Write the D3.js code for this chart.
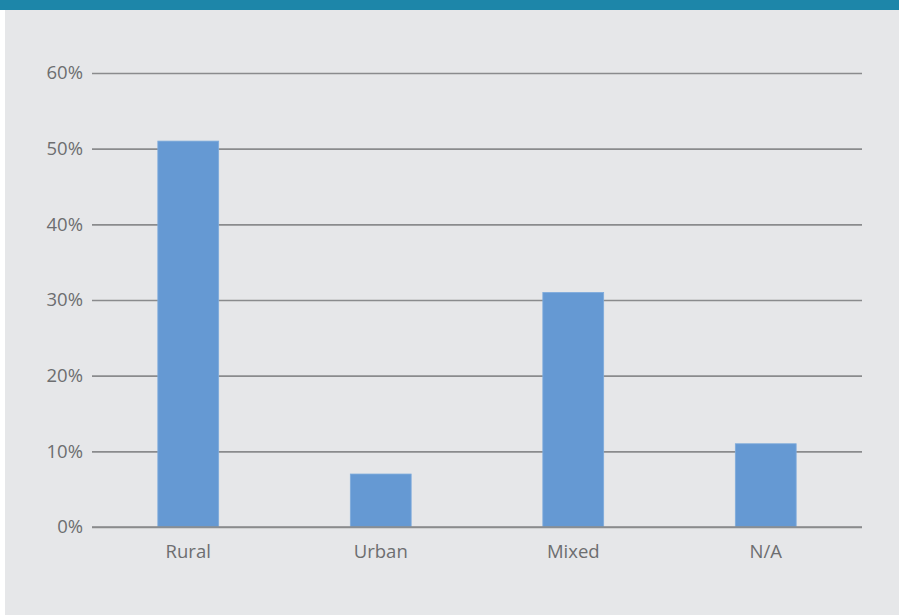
<!DOCTYPE html>
<html>
<head>
<meta charset="utf-8">
<script src="https://cdn.jsdelivr.net/npm/d3@7"></script>
<style>
  html, body { margin: 0; padding: 0; background: #ffffff; }
  svg { display: block; }
</style>
</head>
<body>
<svg id="chart" width="899" height="615"></svg>
<script>
const categories = ["Rural", "Urban", "Mixed", "N/A"];
const values = [0.51, 0.07, 0.31, 0.11];
const tickValues = [0, 0.1, 0.2, 0.3, 0.4, 0.5, 0.6];

(function () {
const W = 899, H = 615;
const svg = d3.select("#chart");

// panel background
svg.append("rect").attr("x", 5).attr("y", 0).attr("width", W - 5).attr("height", H).attr("fill", "#e6e7e9");
// top band
svg.append("rect").attr("x", 0).attr("y", 0).attr("width", W).attr("height", 10).attr("fill", "#1d86a9");

const mLeft = 92, mRight = 862, mTop = 73, mBottom = 527;

const x = d3.scaleBand().domain(categories).range([mLeft, mRight]).paddingInner(0.684).paddingOuter(0.342);
const y = d3.scaleLinear().domain([0, 0.6]).range([mBottom, mTop]);

const font = "'Open Sans', sans-serif";
const fs = "18.5px";

// gridlines
const yAxis = d3.axisLeft(y).tickValues(tickValues).tickFormat(d3.format(".0%")).tickSize(-(mRight - mLeft)).tickPadding(9);
const gy = svg.append("g").attr("transform", `translate(${mLeft},0)`).call(yAxis);
gy.select(".domain").remove();
gy.selectAll(".tick line").attr("stroke", "#8a8b8d").attr("stroke-width", 1.6);
gy.selectAll(".tick text").attr("fill", "#6d6e70").style("font-family", font).style("font-size", fs);

// bars
svg.append("g").selectAll("rect").data(categories).join("rect")
  .attr("x", d => x(d))
  .attr("y", (d, i) => y(values[i]))
  .attr("width", x.bandwidth())
  .attr("height", (d, i) => y(0) - y(values[i]))
  .attr("fill", "#6599d3")
  .attr("stroke", "#7eabdc")
  .attr("stroke-width", 0.8);

// redraw baseline on top
svg.append("line").attr("x1", mLeft).attr("x2", mRight).attr("y1", y(0)).attr("y2", y(0))
  .attr("stroke", "#8a8b8d").attr("stroke-width", 1.6);

// x axis labels
const xAxis = d3.axisBottom(x).tickSize(0).tickPadding(18);
const gx = svg.append("g").attr("transform", `translate(0,${mBottom})`).call(xAxis);
gx.select(".domain").remove();
gx.selectAll(".tick text").attr("fill", "#6d6e70").style("font-family", font).style("font-size", fs);
})();
</script>
</body>
</html>
